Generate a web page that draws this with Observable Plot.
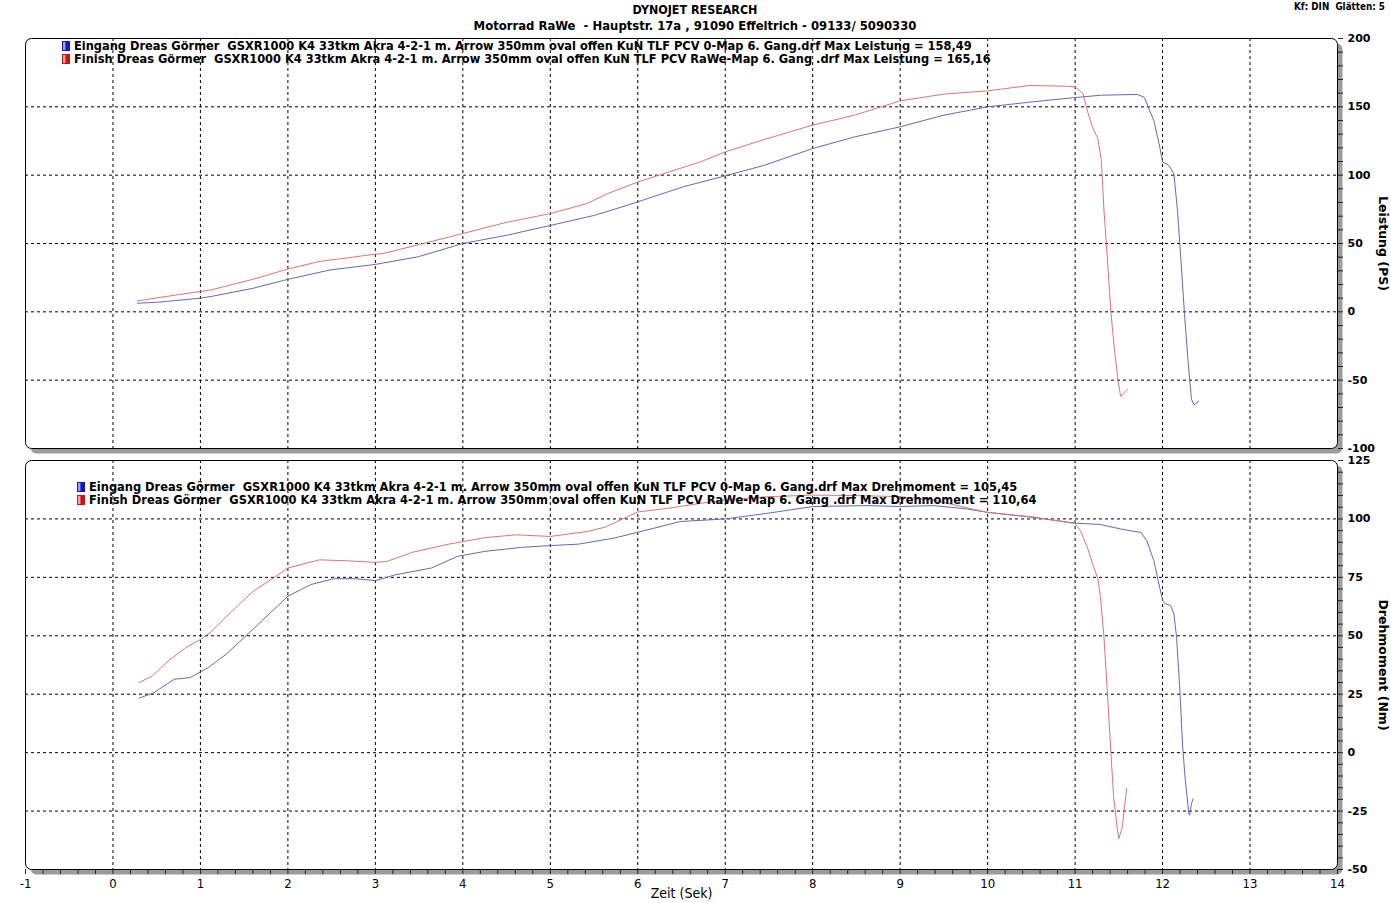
<!DOCTYPE html>
<html><head><meta charset="utf-8">
<script src="https://cdn.jsdelivr.net/npm/d3@7"></script>
<script src="https://cdn.jsdelivr.net/npm/@observablehq/plot@0.6"></script>
<style>
body{margin:0;background:#fff;}
#root{position:relative;width:1391px;height:903px;overflow:hidden;background:#fff;font-family:"DejaVu Sans Condensed","DejaVu Sans",sans-serif;}
#root svg{position:absolute;left:0;overflow:visible;}
.t{position:absolute;white-space:pre;font-weight:bold;color:#000;line-height:1;font-size:12px;}
.sw{position:absolute;width:8px;height:10px;box-sizing:border-box;}
#root svg g[aria-label="y-axis tick label"]{font:bold 11px "DejaVu Sans",sans-serif;}
#root svg g[aria-label="x-axis tick label"]{font:13px "DejaVu Sans Condensed","DejaVu Sans",sans-serif;}
</style></head>
<body><div id="root"></div>
<script>
// ---------- data ----------
const titleText = "DYNOJET RESEARCH";
const subtitleText = "Motorrad RaWe  - Hauptstr. 17a , 91090 Effeltrich - 09133/ 5090330";
const cornerText = "Kf: DIN  Glätten: 5";
const runNames = [
  "Eingang Dreas Görmer  GSXR1000 K4 33tkm Akra 4-2-1 m. Arrow 350mm oval offen KuN TLF PCV 0-Map 6. Gang.drf",
  "Finish Dreas Görmer  GSXR1000 K4 33tkm Akra 4-2-1 m. Arrow 350mm oval offen KuN TLF PCV RaWe-Map 6. Gang .drf"
];
const maxLeistung = ["158,49", "165,16"];
const maxDrehmoment = ["105,45", "110,64"];
const runColors = ["#6868bd", "#e07474"];
const swatchColors = [["#a0a0ff", "#1414c8"], ["#ffa0a0", "#c81414"]];

const zeitTicks = [-1,0,1,2,3,4,5,6,7,8,9,10,11,12,13,14];
const leistungTicks = [200,150,100,50,0,-50,-100];
const drehmomentTicks = [125,100,75,50,25,0,-25,-50];

// [Zeit (s), Leistung (PS)]
const eingangLeistung = [[0.28,6.3],[0.51,7.0],[1.0,10.0],[1.12,11.2],[1.6,17.2],[2.0,23.8],[2.48,30.6],[3.0,34.7],[3.49,40.3],[4.0,50],[4.5,56],[5.0,63.2],[5.5,70.5],[5.82,76.8],[6.0,80.5],[6.52,91.5],[7.0,99.5],[7.45,107.3],[8.0,119.5],[8.48,128],[9.0,135.4],[9.5,143.9],[10.0,150],[10.52,153.7],[11.0,156.8],[11.3,158.5],[11.71,159.1],[11.79,157],[11.9,140],[11.96,123],[12.0,109.7],[12.07,107.3],[12.13,101],[12.17,74.5],[12.21,38],[12.25,-1],[12.29,-35],[12.33,-64],[12.36,-68],[12.41,-65.5]];
const finishLeistung = [[0.28,8.0],[0.73,12.4],[1.12,16],[1.6,23.8],[2.0,31.3],[2.35,36.7],[3.0,42.2],[3.09,42.7],[3.55,50],[4.0,57.3],[4.5,65.5],[5.01,72],[5.42,79.3],[5.66,86.6],[6.0,95],[6.36,102.4],[6.72,109.8],[7.0,117],[7.42,125.6],[8.0,136.6],[8.48,143.9],[9.0,154.4],[9.5,159.3],[10.0,161.7],[10.48,165.6],[10.89,165.1],[11.0,164.5],[11.09,159.7],[11.14,147],[11.2,135],[11.26,126.8],[11.3,111],[11.33,74.5],[11.37,38],[11.41,-0.7],[11.45,-27.7],[11.49,-49.6],[11.52,-61.8],[11.55,-60],[11.6,-57]];
// [Zeit (s), Drehmoment (Nm)]
const eingangDrehmoment = [[0.30,23.3],[0.47,25.7],[0.70,31.4],[0.88,32.1],[1.09,36.4],[1.29,42],[1.49,48.9],[1.70,56.3],[2.0,66.9],[2.26,71.9],[2.52,74.4],[2.77,74.4],[3.0,73.6],[3.23,76.1],[3.64,79],[3.94,84],[4.25,86.1],[4.66,87.8],[5.0,88.6],[5.32,89.2],[5.73,91.8],[6.0,94.3],[6.49,98.9],[7.0,100],[7.48,102.4],[8.0,105.3],[8.62,105.7],[9.0,105.3],[9.38,105.7],[9.76,104.3],[10.0,102.8],[10.53,100.6],[11.0,98.2],[11.29,97.6],[11.52,95.7],[11.67,94.7],[11.75,94.3],[11.82,90.7],[11.9,82.2],[11.95,73.6],[12.0,65.1],[12.03,63.7],[12.09,63],[12.13,59.4],[12.16,49.4],[12.2,25.2],[12.23,2.4],[12.26,-11.8],[12.3,-26],[12.31,-26.8],[12.33,-21.8],[12.35,-19.7]];
const finishDrehmoment = [[0.30,30],[0.45,32.8],[0.63,39.2],[0.83,44.9],[1.0,48.4],[1.11,51.3],[1.34,59.8],[1.60,69],[1.75,72.6],[2.0,79],[2.36,82.5],[2.67,82.1],[3.0,81.4],[3.13,81.8],[3.43,85.8],[3.84,89.2],[4.25,92],[4.61,93.2],[5.0,92.5],[5.42,94.6],[5.63,96.5],[6.0,103],[6.34,104.5],[6.72,106.7],[7.0,108.1],[7.48,109.5],[8.0,110.2],[8.62,109.9],[9.0,109.5],[9.38,108.1],[9.76,104.8],[10.0,102.8],[10.53,100.8],[11.0,98],[11.06,95],[11.14,87.9],[11.2,80.8],[11.26,74.4],[11.29,66.5],[11.33,49.4],[11.37,25.2],[11.41,-0.4],[11.44,-18.9],[11.48,-31.8],[11.5,-36.8],[11.54,-31.8],[11.56,-24.6],[11.59,-15.4]];

// ---------- drawing ----------
const root = document.getElementById("root");
const xDomain = [zeitTicks[0], zeitTicks[zeitTicks.length-1]];
const dash = {stroke:"#000", strokeOpacity:1, strokeDasharray:"3,3", strokeWidth:1};
const plain = d => String(d);

function panel({series, yTicks, yMinorStep, yLabel, showX, height, marginBottom}) {
  const y0 = d3.min(yTicks), y1 = d3.max(yTicks);
  const yMinor = d3.range(Math.round((y1-y0)/yMinorStep)+1).map(i => y0 + i*yMinorStep);
  const yInner = yTicks.filter(v => v !== y0 && v !== y1);
  const xInner = zeitTicks.filter(v => v !== xDomain[0] && v !== xDomain[1]);
  const marks = [
    Plot.frame({fill:"#9c9c9c", rx:6, dx:5, dy:5}),
    Plot.frame({fill:"#fff", stroke:"#000", rx:6}),
    Plot.gridX(xInner, dash),
    Plot.gridY(yInner, dash),
    ...series.map(s => Plot.line(s.data, {x:d=>d[0], y:d=>d[1], stroke:s.color, strokeWidth:1})),
    Plot.axisY(yMinor, {anchor:"right", tickSize:5, tickFormat:()=>"", label:null, stroke:"#222"}),
    Plot.axisY(yTicks, {anchor:"right", tickSize:0, tickPadding:10, label:null, tickFormat:plain, fill:"#000"}),
    Plot.text([yLabel], {frameAnchor:"right", textAnchor:"middle", rotate:90, dx:45, fill:"#000"})
  ];
  if (showX) {
    const xMinor = d3.range(Math.round((xDomain[1]-xDomain[0])/0.2)+1).map(i => xDomain[0] + i*0.2);
    marks.push(
      Plot.axisX(xMinor, {anchor:"bottom", tickSize:5, tickFormat:()=>"", label:null, stroke:"#222"}),
      Plot.axisX(zeitTicks, {anchor:"bottom", tickSize:0, tickPadding:9, label:null, tickFormat:plain, fill:"#000"}),
      Plot.text(["Zeit (Sek)"], {frameAnchor:"bottom", textAnchor:"middle", dy:28, fill:"#000"})
    );
  }
  const svg = Plot.plot({
    width:1391, height, marginLeft:25, marginRight:54, marginTop:10, marginBottom,
    x:{domain:xDomain, axis: showX ? undefined : null},
    y:{domain:[y0,y1]},
    style:{background:"transparent", overflow:"visible"},
    marks
  });
  svg.querySelectorAll('g[aria-label="text"] text').forEach(t => {
    if (t.textContent === yLabel) t.style.font = 'bold 12.5px "DejaVu Sans", sans-serif';
    else t.style.font = '14px "DejaVu Sans Condensed", "DejaVu Sans", sans-serif';
  });
  return svg;
}

const topPanel = panel({
  series:[{data:eingangLeistung, color:runColors[0]}, {data:finishLeistung, color:runColors[1]}],
  yTicks:leistungTicks, yMinorStep:10, yLabel:"Leistung (PS)", showX:false, height:430, marginBottom:10
});
topPanel.style.top = "28px";
root.appendChild(topPanel);

const bottomPanel = panel({
  series:[{data:eingangDrehmoment, color:runColors[0]}, {data:finishDrehmoment, color:runColors[1]}],
  yTicks:drehmomentTicks, yMinorStep:5, yLabel:"Drehmoment (Nm)", showX:true, height:453, marginBottom:34
});
bottomPanel.style.top = "450px";
root.appendChild(bottomPanel);

// ---------- texts ----------
function addText(str, {left, right, cx, cy, width, size=12}) {
  const el = document.createElement("div");
  el.className = "t";
  el.textContent = str;
  el.style.fontSize = size + "px";
  root.appendChild(el);
  if (width) {
    const w = el.getBoundingClientRect().width;
    el.style.fontSize = (size * width / w) + "px";
  }
  const r = el.getBoundingClientRect();
  el.style.top = (cy - r.height/2) + "px";
  if (cx !== undefined) el.style.left = (cx - r.width/2) + "px";
  else if (right !== undefined) el.style.left = (right - r.width) + "px";
  else el.style.left = left + "px";
  return el;
}
addText(titleText, {cx:695, cy:10, width:125});
addText(subtitleText, {cx:695, cy:26, width:443});
addText(cornerText, {right:1385, cy:7, width:91});

function legend(x0, yc, label, values, width1) {
  let fs = null;
  runNames.forEach((name, i) => {
    const sw = document.createElement("div");
    sw.className = "sw";
    sw.style.left = (x0 - 12) + "px";
    sw.style.top = (yc + i*13 - 5) + "px";
    sw.style.background = `linear-gradient(to right, ${swatchColors[i][0]} 0%, ${swatchColors[i][0]} 30%, ${swatchColors[i][1]} 50%, ${swatchColors[i][1]} 100%)`;
    sw.style.border = "1px solid " + swatchColors[i][1];
    root.appendChild(sw);
    const el = addText(`${name} Max ${label} = ${values[i]}`, {left:x0, cy:yc + i*13, width: i===0 ? width1 : undefined, size: fs || 12});
    if (i === 0) fs = parseFloat(el.style.fontSize);
  });
}
legend(74, 46, "Leistung", maxLeistung, 899);
legend(89, 487, "Drehmoment", maxDrehmoment, 929);
</script>
</body></html>
